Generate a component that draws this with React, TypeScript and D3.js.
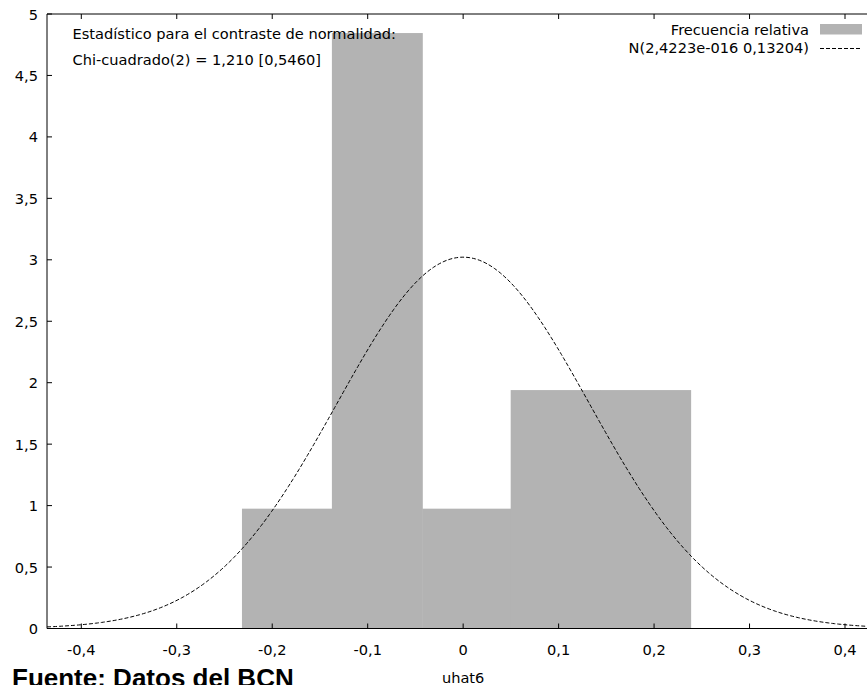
import React from "react";
import * as d3 from "d3";

// ---- data ----
const binEdges = [-0.2317, -0.1375, -0.0428, 0.0498, 0.144, 0.2383];
const relFreq = [0.975, 4.845, 0.975, 1.94, 1.94];
const normalMean = 2.4223e-16;
const normalSd = 0.13204;
const xTicks = [-0.4, -0.3, -0.2, -0.1, 0, 0.1, 0.2, 0.3, 0.4];
const yTicks = [0, 0.5, 1, 1.5, 2, 2.5, 3, 3.5, 4, 4.5, 5];
const annotationLines = [
  "Estadístico para el contraste de normalidad:",
  "Chi-cuadrado(2) = 1,210 [0,5460]",
];
const legendLabels = ["Frecuencia relativa", "N(2,4223e-016 0,13204)"];
const xLabel = "uhat6";
const sourceText = "Fuente: Datos del BCN";

const W = 867;
const H = 685;
const FONT = "'DejaVu Sans', Verdana, sans-serif";
const FS = 14.6;

const fmt = (v: number) => {
  const r = Math.round(v * 10) / 10;
  if (r === 0) return "0";
  return String(r).replace(".", ",");
};

export default function App() {
  const left = 47;
  const top = 14;
  const bottom = 628.5;
  const x = d3.scaleLinear().domain([-0.4, 0.4]).range([81.3, 845]);
  const y = d3.scaleLinear().domain([0, 5]).range([bottom, top]);
  const xMin = x.invert(left);
  const xMax = x.invert(W + 20);

  const pdf = (v: number) =>
    Math.exp(-0.5 * ((v - normalMean) / normalSd) ** 2) /
    (normalSd * Math.sqrt(2 * Math.PI));
  const curvePts = d3.range(0, 401).map((i) => {
    const v = xMin + ((xMax - xMin) * i) / 400;
    return [v, pdf(v)] as [number, number];
  });
  const line = d3
    .line<[number, number]>()
    .x((d) => x(d[0]))
    .y((d) => y(d[1]));

  const tickLen = 5;

  return (
    <svg
      width={W}
      height={H}
      style={{ position: "absolute", left: 0, top: 0, background: "#fff" }}
      fontFamily={FONT}
    >
      <rect x={0} y={0} width={W} height={H} fill="#fff" />
      <defs>
        <clipPath id="plot">
          <rect x={left} y={top} width={W - left + 20} height={bottom - top} />
        </clipPath>
      </defs>
      {/* bars */}
      <g fill="#b3b3b3">
        {relFreq.map((f, i) => (
          <rect
            key={i}
            x={x(binEdges[i])}
            y={y(f)}
            width={x(binEdges[i + 1]) - x(binEdges[i]) + 0.5}
            height={bottom - y(f)}
          />
        ))}
      </g>
      {/* normal curve */}
      <path
        d={line(curvePts) || ""}
        fill="none"
        stroke="#000"
        strokeWidth={1}
        strokeDasharray="4,2"
        clipPath="url(#plot)"
      />
      {/* frame */}
      <g stroke="#000" strokeWidth={1} fill="none">
        <line x1={left} x2={W} y1={top} y2={top} />
        <line x1={left} x2={W} y1={bottom} y2={bottom} />
        <line x1={left} x2={left} y1={top} y2={bottom} />
        {xTicks.map((t) => (
          <g key={"xt" + t}>
            <line x1={x(t)} x2={x(t)} y1={bottom} y2={bottom - tickLen} />
            <line x1={x(t)} x2={x(t)} y1={top} y2={top + tickLen} />
          </g>
        ))}
        {yTicks.map((t) => (
          <line key={"yt" + t} x1={left} x2={left + tickLen} y1={y(t)} y2={y(t)} />
        ))}
      </g>
      {/* tick labels */}
      <g fontSize={FS} fill="#000">
        {xTicks.map((t) => (
          <text key={"xl" + t} x={x(t)} y={655} textAnchor="middle">
            {fmt(t)}
          </text>
        ))}
        {yTicks.map((t) => (
          <text
            key={"yl" + t}
            x={38}
            y={y(t)}
            textAnchor="end"
            dominantBaseline="central"
          >
            {t === 0 ? "0" : String(t).replace(".", ",")}
          </text>
        ))}
        <text x={x(0)} y={682.5} textAnchor="middle">
          {xLabel}
        </text>
      </g>
      {/* annotation */}
      <g fontSize={FS} fill="#000">
        {annotationLines.map((s, i) => (
          <text key={s} x={72.5} y={39 + i * 26}>
            {s}
          </text>
        ))}
      </g>
      {/* legend */}
      <g fontSize={FS} fill="#000">
        <text x={809} y={34.5} textAnchor="end">
          {legendLabels[0]}
        </text>
        <rect x={820} y={24} width={42} height={10.5} fill="#b3b3b3" />
        <text x={809} y={53} textAnchor="end">
          {legendLabels[1]}
        </text>
        <line
          x1={820}
          x2={862}
          y1={48.5}
          y2={48.5}
          stroke="#000"
          strokeWidth={1}
          strokeDasharray="4,2"
        />
      </g>
      {/* source */}
      <text
        x={12}
        y={687}
        fontFamily="'Liberation Sans', Arial, sans-serif"
        fontWeight="bold"
        fontSize={26}
        fill="#000"
      >
        {sourceText}
      </text>
    </svg>
  );
}
